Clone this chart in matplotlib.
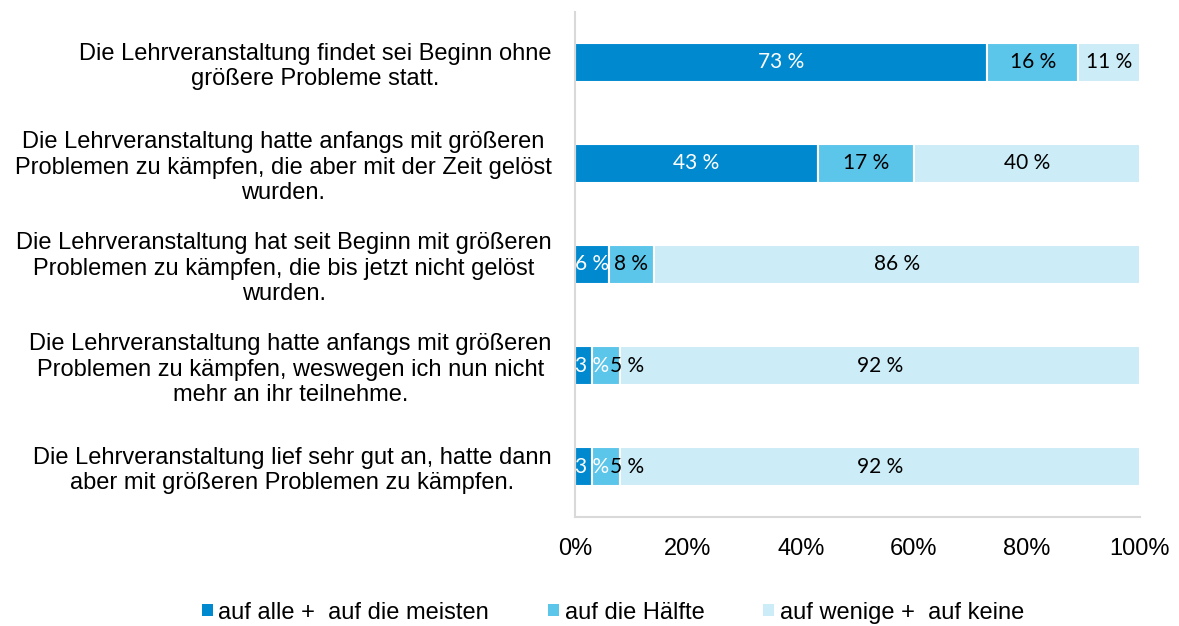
import numpy as np
import matplotlib.pyplot as plt
from matplotlib.patches import Patch

# Data
categories = [
    'Die Lehrveranstaltung findet sei Beginn ohne\ngrößere Probleme statt.',
    'Die Lehrveranstaltung hatte anfangs mit größeren\nProblemen zu kämpfen, die aber mit der Zeit gelöst\nwurden.',
    'Die Lehrveranstaltung hat seit Beginn mit größeren\nProblemen zu kämpfen, die bis jetzt nicht gelöst\nwurden.',
    'Die Lehrveranstaltung hatte anfangs mit größeren\nProblemen zu kämpfen, weswegen ich nun nicht\nmehr an ihr teilnehme.',
    'Die Lehrveranstaltung lief sehr gut an, hatte dann\naber mit größeren Problemen zu kämpfen.',
]
series_names = ['auf alle +  auf die meisten', 'auf die Hälfte', 'auf wenige +  auf keine']
alle_meisten = [73, 43, 6, 3, 3]
haelfte = [16, 17, 8, 5, 5]
wenige_keine = [11, 40, 86, 92, 92]

colors = ['#0089CF', '#5BC5EA', '#CCECF7']
label_colors = ['white', 'black', 'black']

plt.rcParams['font.family'] = ['Liberation Sans', 'DejaVu Sans']

fig = plt.figure(figsize=(11.79, 6.26), dpi=100)
ax = fig.add_axes([0.4877, 0.174, 0.4792, 0.807])

y = np.arange(len(categories))
left = np.zeros(len(categories))
labels = [[] for _ in categories]
for vals, col, lc in zip([alle_meisten, haelfte, wenige_keine], colors, label_colors):
    vals = np.array(vals, dtype=float)
    bars = ax.barh(y, vals, left=left, height=0.38, color=col, edgecolor='white', linewidth=1.5)
    for i, (b, v) in enumerate(zip(bars, vals)):
        t = ax.text(b.get_x() + b.get_width() / 2, b.get_y() + b.get_height() / 2, f'{int(v)} %',
                    ha='center', va='center', color=lc, fontsize=15, family='Lato')
        labels[i].append(t)
    left += vals

ax.set_xlim(0, 100)
ax.set_ylim(4.5, -0.5)
ax.set_yticks(y)
ax.set_yticklabels(categories, fontsize=17, ha='right', multialignment='center', linespacing=1.2)
ax.set_xticks([0, 20, 40, 60, 80, 100])
ax.set_xticklabels(['0%', '20%', '40%', '60%', '80%', '100%'], fontsize=17)
ax.tick_params(axis='both', length=0)
ax.tick_params(axis='x', pad=15)
ax.tick_params(axis='y', pad=17)
for s in ['top', 'right']:
    ax.spines[s].set_visible(False)
for s in ['left', 'bottom']:
    ax.spines[s].set_color('#D9D9D9')
    ax.spines[s].set_linewidth(1.5)

# push crowded data labels apart, left to right
fig.canvas.draw()
r = fig.canvas.get_renderer()
inv = ax.transData.inverted()
x_axis0 = ax.transData.transform((0, 0))[0]
for row in labels:
    prev_right = None
    for t in row:
        bb = t.get_window_extent(r)
        x0, x1 = bb.x0, bb.x1
        shift = 0
        if x0 < x_axis0:
            shift = x_axis0 - x0
        if prev_right is not None and x0 + shift < prev_right + 1:
            shift = prev_right + 1 - x0
        if shift:
            cx, cy = ax.transData.transform(t.get_position())
            t.set_position(inv.transform((cx + shift, cy)))
        prev_right = x1 + shift

handles = [Patch(facecolor=c, edgecolor='none') for c in colors]
fig.legend(handles, series_names, loc='lower center', bbox_to_anchor=(0.52, -0.03), ncol=3,
           frameon=False, fontsize=17, handlelength=0.45, handleheight=0.45,
           handletextpad=0.25, columnspacing=2.5)

fig.savefig('out.png', dpi=100)
